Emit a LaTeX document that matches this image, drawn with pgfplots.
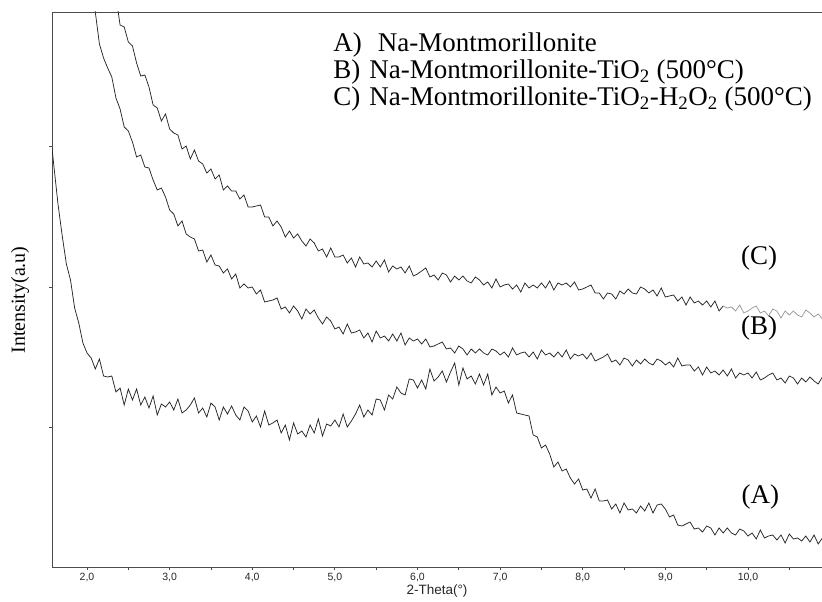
\documentclass[border=0pt]{standalone}
\usepackage{fontspec}
\setmainfont{Liberation Serif}
\setsansfont{Liberation Sans}
\usepackage{pgfplots}
\pgfplotsset{compat=1.18}
\begin{document}
\begin{tikzpicture}
\path[use as bounding box] (-52pt,-35pt) rectangle (770pt,567pt);
\begin{axis}[
  at={(0pt,0pt)}, anchor=south west,
  scale only axis, width=770pt, height=555pt,
  xmin=1.576, xmax=10.896, ymin=0, ymax=555,
  axis x line=bottom, axis y line=left,
  axis line style={-, black!70, line width=0.8pt},
  xtick={2,3,4,5,6,7,8,9,10},
  xticklabels={{2,0},{3,0},{4,0},{5,0},{6,0},{7,0},{8,0},{9,0},{10,0}},
  minor xtick={2.5,3.5,4.5,5.5,6.5,7.5,8.5,9.5,10.5},
  ytick={140,280,421}, yticklabels={},
  tick align=outside,
  major tick length=3pt, minor tick length=3pt,
  tick style={black!70, line width=0.8pt},
  xticklabel style={font=\sffamily\fontsize{10.5}{11}\selectfont, text=black!85},
]
% (A) Na-Montmorillonite
\addplot[no markers, black!85, line width=0.75pt] coordinates {
(1.576,419)(1.60,400)(1.65,362)(1.70,331)(1.75,303)(1.80,287)(1.85,259)(1.90,244)(1.95,224)
(2.00,214)(2.05,209)(2.10,198)(2.15,208)(2.20,191)(2.25,190)(2.30,191)(2.35,175)(2.40,179)
(2.45,162)(2.50,178)(2.55,167)(2.60,178)(2.65,162)(2.70,170)(2.75,159)(2.80,171)(2.85,152)
(2.90,163)(2.95,160)(3.00,165)(3.05,157)(3.10,168)(3.15,154)(3.20,157)(3.25,162)(3.30,169)
(3.35,154)(3.40,159)(3.45,150)(3.50,164)(3.55,160)(3.60,147)(3.65,160)(3.70,153)(3.75,161)
(3.80,152)(3.85,147)(3.90,160)(3.95,156)(4.00,145)(4.05,151)(4.10,140)(4.15,156)(4.20,142)
(4.25,144)(4.30,147)(4.35,134)(4.40,142)(4.45,127)(4.50,144)(4.55,133)(4.60,136)(4.65,130)
(4.70,142)(4.75,134)(4.80,148)(4.85,131)(4.90,143)(4.95,141)(5.00,147)(5.05,140)(5.10,153)
(5.15,140)(5.20,146)(5.25,153)(5.30,162)(5.35,150)(5.40,157)(5.45,152)(5.50,168)(5.55,167)
(5.60,157)(5.65,172)(5.70,168)(5.75,180)(5.80,174)(5.85,172)(5.90,188)(5.95,187)(6.00,179)
(6.05,187)(6.10,178)(6.15,198)(6.20,186)(6.25,190)(6.30,196)(6.35,185)(6.40,195)(6.45,204)
(6.50,182)(6.55,199)(6.60,188)(6.65,191)(6.70,183)(6.75,193)(6.80,182)(6.85,193)(6.90,172)
(6.95,180)(7.00,174)(7.05,176)(7.10,164)(7.15,172)(7.20,154)(7.25,153)(7.30,152)(7.35,151)
(7.40,132)(7.45,130)(7.50,119)(7.55,122)(7.60,113)(7.65,100)(7.70,105)(7.75,96)(7.80,98)
(7.85,89)(7.90,83)(7.95,88)(8.00,77)(8.05,78)(8.10,69)(8.15,78)(8.20,66)(8.25,66)(8.30,67)
(8.35,58)(8.40,63)(8.45,54)(8.50,64)(8.55,57)(8.60,58)(8.65,54)(8.70,61)(8.75,56)(8.80,64)
(8.85,54)(8.90,62)(8.95,63)(9.00,58)(9.05,50)(9.10,52)(9.15,42)(9.20,41)(9.25,43)(9.30,45)
(9.35,38)(9.40,39)(9.45,35)(9.50,41)(9.55,39)(9.60,32)(9.65,39)(9.70,34)(9.75,39)(9.80,34)
(9.85,32)(9.90,38)(9.95,36)(10.00,31)(10.05,34)(10.10,28)(10.15,37)(10.20,29)(10.25,31)
(10.30,32)(10.35,27)(10.40,32)(10.45,24)(10.50,33)(10.55,28)(10.60,29)(10.65,26)(10.70,31)
(10.75,25)(10.80,32)(10.85,23)(10.90,29)
};
% (B) Na-Montmorillonite-TiO2 (500 C)
\addplot[no markers, black!85, line width=0.75pt] coordinates {
(2.00,603)(2.05,570)(2.10,555)(2.15,523)(2.20,509)(2.25,499)(2.30,490)(2.35,469)(2.40,458)
(2.45,440)(2.50,436)(2.55,425)(2.60,410)(2.65,412)(2.70,400)(2.75,399)(2.80,387)(2.85,377)
(2.90,379)(2.95,370)(3.00,357)(3.05,353)(3.10,341)(3.15,346)(3.20,333)(3.25,330)(3.30,328)
(3.35,316)(3.40,317)(3.45,305)(3.50,312)(3.55,302)(3.60,301)(3.65,294)(3.70,298)(3.75,288)
(3.80,293)(3.85,279)(3.90,283)(3.95,279)(4.00,280)(4.05,273)(4.10,277)(4.15,265)(4.20,266)
(4.25,267)(4.30,269)(4.35,258)(4.40,260)(4.45,254)(4.50,261)(4.55,256)(4.60,248)(4.65,258)
(4.70,253)(4.75,257)(4.80,249)(4.85,243)(4.90,250)(4.95,246)(5.00,238)(5.05,240)(5.10,233)
(5.15,243)(5.20,234)(5.25,235)(5.30,237)(5.35,229)(5.40,234)(5.45,225)(5.50,236)(5.55,229)
(5.60,231)(5.65,226)(5.70,233)(5.75,226)(5.80,234)(5.85,222)(5.90,229)(5.95,226)(6.00,228)
(6.05,223)(6.10,228)(6.15,220)(6.20,221)(6.25,223)(6.30,225)(6.35,218)(6.40,219)(6.45,214)
(6.50,221)(6.55,218)(6.60,212)(6.65,218)(6.70,214)(6.75,218)(6.80,214)(6.85,212)(6.90,218)
(6.95,216)(7.00,212)(7.05,215)(7.10,210)(7.15,219)(7.20,212)(7.25,214)(7.30,215)(7.35,210)
(7.40,215)(7.45,208)(7.50,217)(7.55,212)(7.60,214)(7.65,210)(7.70,215)(7.75,210)(7.80,217)
(7.85,208)(7.90,213)(7.95,211)(8.00,213)(8.05,208)(8.10,214)(8.15,206)(8.20,208)(8.25,210)
(8.30,213)(8.35,205)(8.40,207)(8.45,202)(8.50,209)(8.55,207)(8.60,201)(8.65,207)(8.70,203)
(8.75,208)(8.80,204)(8.85,202)(8.90,208)(8.95,206)(9.00,202)(9.05,205)(9.10,200)(9.15,209)
(9.20,201)(9.25,202)(9.30,202)(9.35,196)(9.40,200)(9.45,192)(9.50,200)(9.55,194)(9.60,196)
(9.65,192)(9.70,197)(9.75,191)(9.80,198)(9.85,189)(9.90,194)(9.95,192)(10.00,194)(10.05,189)
(10.10,195)(10.15,187)(10.20,189)(10.25,192)(10.30,194)(10.35,187)(10.40,189)(10.45,184)
(10.50,191)(10.55,189)(10.60,183)(10.65,189)(10.70,185)(10.75,190)(10.80,186)(10.85,183)
(10.90,190)
};
% (C) Na-Montmorillonite-TiO2-H2O2 (500 C)
\addplot[no markers, black!85, line width=0.75pt] coordinates {
(2.30,604)(2.35,571)(2.40,542)(2.45,540)(2.50,525)(2.55,521)(2.60,504)(2.65,491)(2.70,492)
(2.75,480)(2.80,462)(2.85,459)(2.90,446)(2.95,453)(3.00,438)(3.05,434)(3.10,432)(3.15,418)
(3.20,421)(3.25,408)(3.30,417)(3.35,406)(3.40,403)(3.45,394)(3.50,398)(3.55,388)(3.60,392)
(3.65,377)(3.70,381)(3.75,376)(3.80,376)(3.85,368)(3.90,372)(3.95,360)(4.00,360)(4.05,361)
(4.10,362)(4.15,350)(4.20,350)(4.25,341)(4.30,346)(4.35,340)(4.40,330)(4.45,336)(4.50,329)
(4.55,333)(4.60,326)(4.65,321)(4.70,328)(4.75,324)(4.80,316)(4.85,318)(4.90,310)(4.95,319)
(5.00,310)(5.05,310)(5.10,312)(5.15,304)(5.20,309)(5.25,300)(5.30,310)(5.35,303)(5.40,304)
(5.45,300)(5.50,306)(5.55,300)(5.60,307)(5.65,295)(5.70,301)(5.75,298)(5.80,300)(5.85,294)
(5.90,301)(5.95,291)(6.00,293)(6.05,296)(6.10,299)(6.15,290)(6.20,292)(6.25,287)(6.30,294)
(6.35,292)(6.40,285)(6.45,291)(6.50,287)(6.55,291)(6.60,286)(6.65,284)(6.70,290)(6.75,287)
(6.80,282)(6.85,285)(6.90,279)(6.95,288)(7.00,280)(7.05,282)(7.10,283)(7.15,278)(7.20,282)
(7.25,275)(7.30,284)(7.35,279)(7.40,282)(7.45,279)(7.50,284)(7.55,279)(7.60,286)(7.65,277)
(7.70,284)(7.75,282)(7.80,284)(7.85,280)(7.90,285)(7.95,277)(8.00,278)(8.05,280)(8.10,282)
(8.15,274)(8.20,274)(8.25,268)(8.30,274)(8.35,273)(8.40,268)(8.45,276)(8.50,273)(8.55,278)
(8.60,274)(8.65,273)(8.70,280)(8.75,278)(8.80,274)(8.85,277)(8.90,271)(8.95,279)(9.00,270)
(9.05,271)(9.10,272)(9.15,266)(9.20,270)(9.25,262)(9.30,270)(9.35,264)(9.40,266)(9.45,262)
(9.50,266)(9.55,260)(9.60,266)(9.65,256)(9.70,261)
};
\addplot[no markers, black!40, line width=0.75pt] coordinates {
(9.70,261)(9.75,259)(9.80,260)(9.85,256)(9.90,262)(9.95,254)(10.00,256)(10.05,259)(10.10,261)
(10.15,254)(10.20,256)(10.25,251)(10.30,258)(10.35,256)(10.40,249)(10.45,256)(10.50,252)
(10.55,256)(10.60,252)(10.65,250)(10.70,257)(10.75,254)(10.80,250)(10.85,253)(10.90,248)
};
\draw[black!70, line width=0.8pt] (rel axis cs:0,1) -- (rel axis cs:1,1);
\begin{scope}[every node/.style={font=\fontsize{27}{27}\selectfont, inner sep=0pt}]
\node[anchor=base west] at (axis cs:4.98,515) {A)\hspace{16pt}Na-Montmorillonite};
\node[anchor=base west] at (axis cs:4.98,488) {B)\hspace{9pt}Na-Montmorillonite-TiO\textsubscript{2} (500\textdegree C)};
\node[anchor=base west] at (axis cs:4.98,461) {C)\hspace{9pt}Na-Montmorillonite-TiO\textsubscript{2}-H\textsubscript{2}O\textsubscript{2} (500\textdegree C)};
\node at (axis cs:10.135,309) {(C)};
\node at (axis cs:10.135,239) {(B)};
\node at (axis cs:10.15,70) {(A)};
\end{scope}
\end{axis}
\node[rotate=90, font=\fontsize{20}{20}\selectfont] at (-32pt,267pt) {Intensity(a.u)};
\node[font=\sffamily\fontsize{13.5}{14}\selectfont, text=black!85] at (385pt,-24pt) {2-Theta(\textdegree)};
\end{tikzpicture}
\end{document}
